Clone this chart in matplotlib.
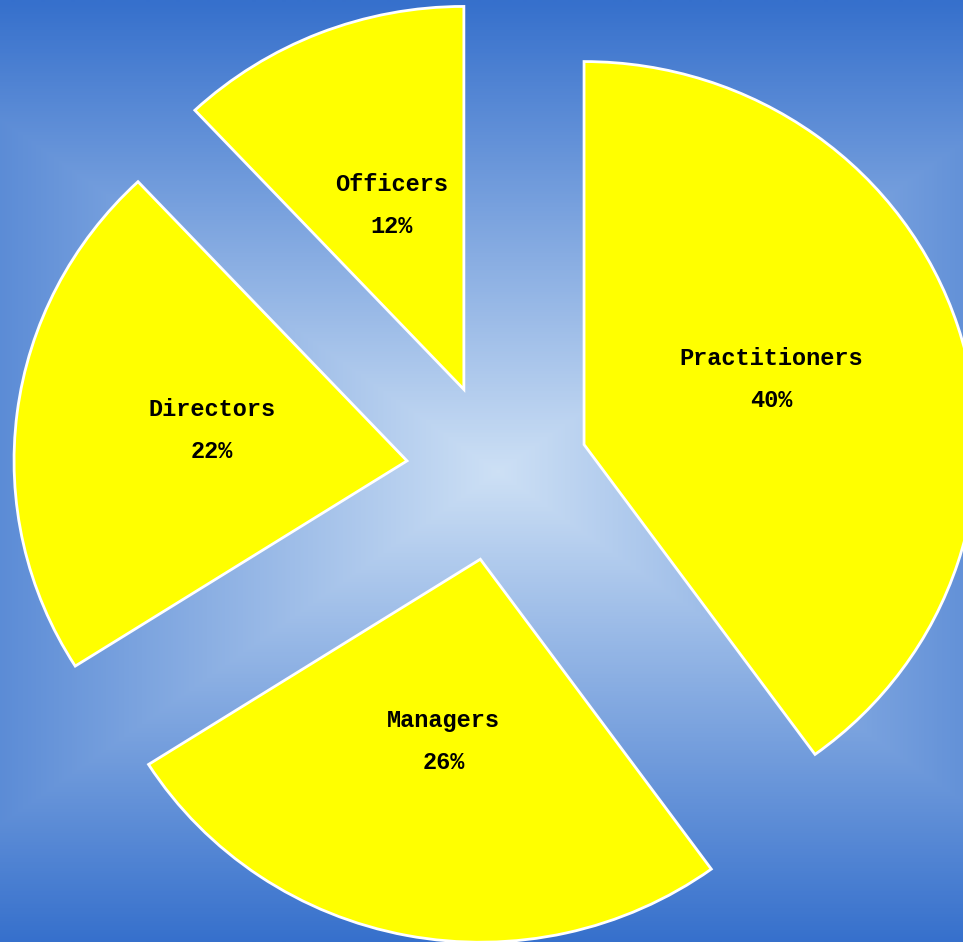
import numpy as np
import matplotlib
matplotlib.use("Agg")
import matplotlib.pyplot as plt
from matplotlib.colors import LinearSegmentedColormap

roles = ["Practitioners", "Managers", "Directors", "Officers"]
shares = [40, 26, 22, 12]

W, H = 963, 942
sx = 1.026            # pie is drawn a little wider than tall
cx, cy = 497.4, 472.0  # pie centre in pixels (y measured from top)
radius = 383
gap = 88.8

fig = plt.figure(figsize=(W / 100, H / 100), dpi=100)
ax = fig.add_axes([0, 0, 1, 1])
xmax = W / sx

# rectangular "from centre" gradient behind the pie
xx, yy = np.meshgrid(np.arange(W) + 0.5, np.arange(H) + 0.5)
t = np.maximum(np.abs(xx - cx) / 664, np.abs(yy - cy) / 471)
t = np.clip(t, 0, 1)
bg = LinearSegmentedColormap.from_list("bg", ["#cde0f5", "#3670cc"])
ax.imshow(bg(t), extent=[0, xmax, 0, H], origin="upper", aspect="auto",
          zorder=0, interpolation="bilinear")

labels = [f"{r}\n{s}%" for r, s in zip(roles, shares)]
wedges, texts = ax.pie(
    shares, labels=labels, startangle=90, counterclock=False,
    center=(cx / sx, H - cy), radius=radius, explode=[gap] * len(shares),
    colors=["#ffff00"] * len(shares),
    wedgeprops=dict(edgecolor="white", linewidth=2),
    labeldistance=0.5, frame=True,
    textprops=dict(fontfamily="Liberation Mono", fontweight="bold",
                   fontsize=17, linespacing=2.05, color="black"))
for tx in texts:
    tx.set_ha("center")
    tx.set_va("center")
    tx.set_multialignment("center")
    # nudge labels up a little
    x, y = tx.get_position()
    tx.set_position((x, y + 6))

ax.set_aspect("auto")
ax.set_xlim(0, xmax)
ax.set_ylim(0, H)
ax.axis("off")

fig.savefig("out.png", dpi=100)
